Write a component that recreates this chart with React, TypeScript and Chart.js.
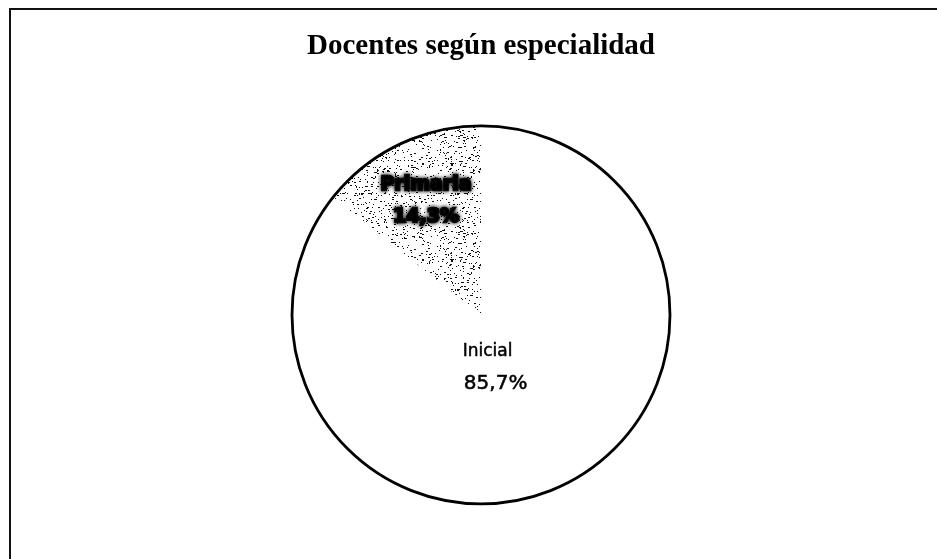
import React, { useEffect, useRef } from "react";
import { Chart, registerables } from "chart.js";

Chart.register(...registerables);

const categories = ["Inicial", "Primaria"];
const values = [85.7, 14.3];
const valueLabels = ["85,7%", "14,3%"];
const chartTitle = "Docentes según especialidad";

function makeSpecklePattern(): CanvasPattern | string {
  const c = document.createElement("canvas");
  c.width = 96;
  c.height = 96;
  const ctx = c.getContext("2d");
  if (!ctx) return "#d0d0d0";
  ctx.fillStyle = "#ffffff";
  ctx.fillRect(0, 0, 96, 96);
  ctx.fillStyle = "#111111";
  // deterministic speckle texture (style only)
  let s = 12345;
  const next = () => {
    s = (s * 1103515245 + 12345) & 0x7fffffff;
    return s / 0x7fffffff;
  };
  for (let i = 0; i < 650; i++) {
    const x = Math.floor(next() * 96);
    const y = Math.floor(next() * 96);
    const w = next() < 0.3 ? 2 : 1;
    ctx.fillRect(x, y, w, 1);
  }
  const p = ctx.createPattern(c, "repeat");
  return p || "#d0d0d0";
}

const outlinePlugin = {
  id: "outlinePlugin",
  afterDatasetsDraw(chart: any) {
    const meta = chart.getDatasetMeta(0);
    const arc = meta.data[0];
    if (!arc) return;
    const { x, y, outerRadius } = arc.getProps(["x", "y", "outerRadius"], true);
    const ctx = chart.ctx;
    ctx.save();
    ctx.beginPath();
    ctx.arc(x, y, outerRadius, 0, Math.PI * 2);
    ctx.lineWidth = 2.8;
    ctx.strokeStyle = "#000000";
    ctx.stroke();
    ctx.restore();
  },
};

const labelFactors = [0.3, 0.67];

const labelPlugin = {
  id: "labelPlugin",
  afterDatasetsDraw(chart: any) {
    const meta = chart.getDatasetMeta(0);
    const ctx = chart.ctx;
    meta.data.forEach((arc: any, i: number) => {
      const p = arc.getProps(["x", "y", "startAngle", "endAngle", "outerRadius"], true);
      const mid = (p.startAngle + p.endAngle) / 2;
      const r = p.outerRadius * labelFactors[i];
      const cx = p.x + Math.cos(mid) * r;
      const cy = p.y + Math.sin(mid) * r;
      ctx.save();
      ctx.textAlign = "center";
      ctx.textBaseline = "middle";
      if (i === 1) {
        ctx.font = "bold 19px 'DejaVu Sans'";
        ctx.fillStyle = "#000000";
        ctx.shadowColor = "rgba(0,0,0,0.9)";
        ctx.shadowBlur = 4;
        ctx.lineWidth = 2.5;
        ctx.strokeStyle = "#111111";
        ctx.strokeText(categories[i], cx, cy - 16);
        ctx.fillText(categories[i], cx, cy - 16);
        ctx.strokeText(valueLabels[i], cx, cy + 16);
        ctx.fillText(valueLabels[i], cx, cy + 16);
      } else {
        ctx.fillStyle = "#000000";
        ctx.lineWidth = 0.5;
        ctx.strokeStyle = "#000000";
        ctx.font = "17px 'DejaVu Sans'";
        ctx.fillText(categories[i], cx - 18, cy - 14);
        ctx.strokeText(categories[i], cx - 18, cy - 14);
        ctx.font = "20px 'DejaVu Sans'";
        ctx.fillText(valueLabels[i], cx - 10, cy + 18);
        ctx.strokeText(valueLabels[i], cx - 10, cy + 18);
      }
      ctx.restore();
    });
  },
};

export default function App() {
  const ref = useRef<HTMLCanvasElement | null>(null);

  useEffect(() => {
    if (!ref.current) return;
    const chart = new Chart(ref.current, {
      type: "pie",
      data: {
        labels: categories,
        datasets: [
          {
            data: values,
            backgroundColor: ["#ffffff", makeSpecklePattern() as any],
            borderWidth: 0,
            hoverOffset: 0,
          },
        ],
      },
      options: {
        responsive: false,
        animation: false,
        events: [],
        layout: { padding: { top: 20, left: 292, right: 267, bottom: 55 } },
        plugins: {
          legend: { display: false },
          tooltip: { enabled: false },
          title: {
            display: true,
            text: chartTitle,
            color: "#000000",
            font: { family: "'Liberation Serif', 'Times New Roman', serif", size: 29, weight: "bold", lineHeight: 1.2 },
            padding: { top: 9, bottom: 62 },
          },
        },
      },
      plugins: [outlinePlugin, labelPlugin],
    });
    return () => chart.destroy();
  }, []);

  return (
    <div style={{ position: "absolute", left: 0, top: 0, width: 937, height: 559, background: "#ffffff" }}>
      <canvas ref={ref} width={937} height={559} style={{ display: "block" }} />
      <div
        style={{
          position: "absolute",
          left: 9,
          top: 8,
          width: 928,
          height: 551,
          borderLeft: "2px solid #111",
          borderTop: "2px solid #111",
          boxSizing: "border-box",
          pointerEvents: "none",
        }}
      />
    </div>
  );
}
